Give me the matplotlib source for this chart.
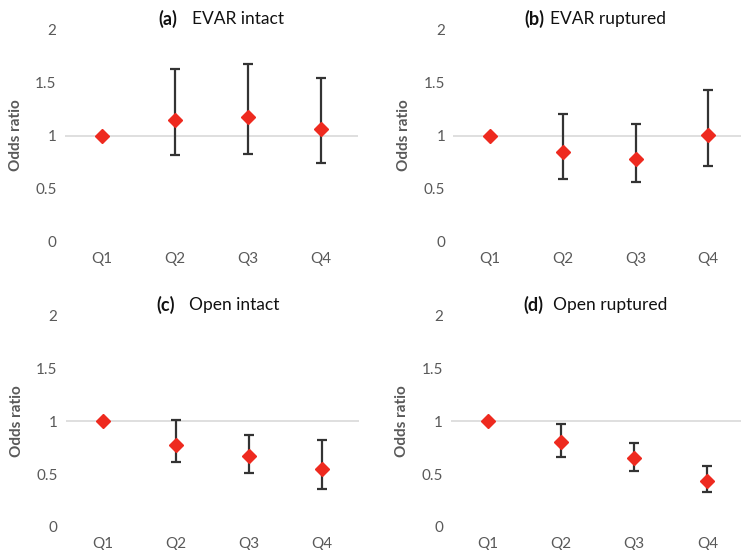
import matplotlib.pyplot as plt

plt.rcParams['font.family'] = ['Lato', 'DejaVu Sans']

quartiles = ["Q1", "Q2", "Q3", "Q4"]

# odds ratio and 95% CI for each panel
evar_intact_or = [1.00, 1.15, 1.17, 1.06]
evar_intact_lo = [1.00, 0.82, 0.83, 0.74]
evar_intact_hi = [1.00, 1.63, 1.67, 1.54]

evar_rupt_or = [1.00, 0.85, 0.78, 1.01]
evar_rupt_lo = [1.00, 0.59, 0.56, 0.71]
evar_rupt_hi = [1.00, 1.20, 1.11, 1.43]

open_intact_or = [1.00, 0.78, 0.67, 0.55]
open_intact_lo = [1.00, 0.61, 0.51, 0.36]
open_intact_hi = [1.00, 1.01, 0.87, 0.82]

open_rupt_or = [1.00, 0.80, 0.65, 0.43]
open_rupt_lo = [1.00, 0.66, 0.53, 0.33]
open_rupt_hi = [1.00, 0.97, 0.79, 0.58]

panels = [
    ("(a)", "EVAR intact", evar_intact_or, evar_intact_lo, evar_intact_hi,
     [0.0877, 0.560, 0.395, 0.387], 0.382, 0.433),
    ("(b)", "EVAR ruptured", evar_rupt_or, evar_rupt_lo, evar_rupt_hi,
     [0.612, 0.560, 0.393, 0.387], 0.311, 0.332),
    ("(c)", "Open intact", open_intact_or, open_intact_lo, open_intact_hi,
     [0.089, 0.042, 0.395, 0.384], 0.372, 0.420),
    ("(d)", "Open ruptured", open_rupt_or, open_rupt_lo, open_rupt_hi,
     [0.609, 0.042, 0.395, 0.384], 0.314, 0.348),
]

fig = plt.figure(figsize=(7.41, 5.5), dpi=100)

for tag, name, vals, lo, hi, pos, tag_x, name_x in panels:
    ax = fig.add_axes(pos)
    x = range(len(quartiles))
    err_lo = [v - l for v, l in zip(vals, lo)]
    err_hi = [h - v for v, h in zip(vals, hi)]
    ax.axhline(1, color="#d9d9d9", lw=1.2, zorder=1)
    ax.errorbar(x, vals, yerr=[err_lo, err_hi], fmt="none", ecolor="#333333",
                elinewidth=1.6, capsize=3.5, capthick=1.6, zorder=2)
    ax.plot(x, vals, "D", color="#ee2a1f", markersize=7, mec="#ee2a1f", zorder=3)

    ax.set_xlim(-0.5, 3.5)
    ax.set_ylim(0, 2)
    ax.set_yticks([0, 0.5, 1, 1.5, 2])
    ax.set_yticklabels(["0", "0.5", "1", "1.5", "2"])
    ax.set_xticks(list(x))
    ax.set_xticklabels(quartiles)
    ax.tick_params(length=0, labelsize=11, colors="#595959", pad=6)
    ax.tick_params(axis="x", pad=7)
    for s in ax.spines.values():
        s.set_visible(False)
    ax.set_ylabel("Odds ratio", fontsize=11, fontweight="bold", color="#595959",
                  labelpad=9)

    ax.text(tag_x, 1.05, tag, transform=ax.transAxes, ha="right", va="center",
            fontsize=13, fontweight="bold", color="#111111")
    ax.text(name_x, 1.05, name, transform=ax.transAxes, ha="left", va="center",
            fontsize=12.5, color="#111111")

fig.savefig("out.png", dpi=100)
